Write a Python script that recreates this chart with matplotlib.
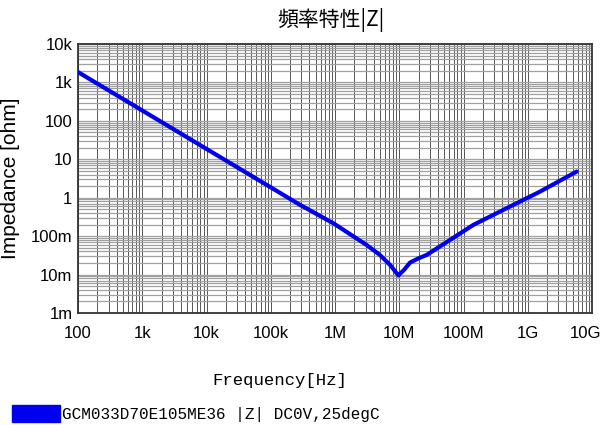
import numpy as np
import matplotlib.pyplot as plt
import matplotlib.transforms as mtransforms
from matplotlib.ticker import FixedLocator, LogLocator, NullFormatter

# |Z| curve (Hz, ohm)
freq = [1e2, 1e3, 1e4, 1e5, 2.85e5, 9.4e5, 3.1e6, 5.0e6, 7.2e6, 9.7e6,
        1.2e7, 1.47e7, 2.0e7, 2.67e7, 6.17e7, 1.42e8, 4.7e8, 1.55e9, 5.78e9]
imp = [1860, 186, 18.6, 1.86, 0.653, 0.217, 0.059, 0.0324, 0.0178, 0.0095,
       0.0135, 0.0205, 0.0265, 0.0324, 0.0796, 0.196, 0.533, 1.44, 4.79]

xticks = [1e2, 1e3, 1e4, 1e5, 1e6, 1e7, 1e8, 1e9, 1e10]
xlabels = ['100', '1k', '10k', '100k', '1M', '10M', '100M', '1G', '10G']
yticks = [1e-3, 1e-2, 1e-1, 1, 10, 100, 1e3, 1e4]
ylabels = ['1m', '10m', '100m', '1', '10', '100', '1k', '10k']

fig = plt.figure(figsize=(6.05, 4.25), dpi=100)
ax = fig.add_axes([78/605, 112/425, 514/605, 269/425])

ax.set_xscale('log')
ax.set_yscale('log')
ax.set_xlim(1e2, 1e10)
ax.set_ylim(1e-3, 1e4)

ax.plot(freq, imp, color='#0000ee', lw=3.0, solid_capstyle='round',
        solid_joinstyle='round', zorder=5)

ax.xaxis.set_major_locator(FixedLocator(xticks))
ax.yaxis.set_major_locator(FixedLocator(yticks))
ax.xaxis.set_minor_locator(LogLocator(base=10, subs=np.arange(2, 10), numticks=20))
ax.yaxis.set_minor_locator(LogLocator(base=10, subs=np.arange(2, 10), numticks=20))
ax.xaxis.set_minor_formatter(NullFormatter())
ax.yaxis.set_minor_formatter(NullFormatter())
ax.set_xticklabels(xlabels)
ax.set_yticklabels(ylabels)

# grid: horizontal light grey, vertical darker
ax.grid(True, axis='y', which='both', color='#a0a0a0', lw=0.9, zorder=1)
ax.grid(True, axis='x', which='both', color='#555555', lw=0.7, zorder=2)
ax.set_axisbelow(True)

ax.tick_params(which='both', length=0)
ax.tick_params(axis='x', pad=9, labelsize=12)
ax.tick_params(axis='y', pad=4, labelsize=12)
for lab in ax.get_xticklabels() + ax.get_yticklabels():
    lab.set_family('Liberation Sans')
# keep the last x label inside the figure
last = ax.get_xticklabels()[-1]
last.set_transform(last.get_transform() +
                   mtransforms.ScaledTranslation(-5/72, 0, fig.dpi_scale_trans))
for sp in ax.spines.values():
    sp.set_color('#333333')
    sp.set_linewidth(1.3)

ax.set_ylabel('Impedance [ohm]', fontsize=15, family='Liberation Sans')
ax.yaxis.set_label_coords(-0.112, 0.5)

fig.text(331/605, 1 - 20/425, '頻率特性|Z|', ha='center', va='center',
         fontsize=15, family=['Noto Sans CJK JP', 'DejaVu Sans'])
fig.text(280/605, 1 - 381/425, 'Frequency[Hz]', ha='center', va='center',
         fontsize=12.5, family='Liberation Mono')

# legend swatch and text
fig.patches.append(plt.Rectangle((12/605, 1 - 422/425), 48/605, 17/425,
                                 transform=fig.transFigure, color='#0000ee'))
fig.text(62/605, 1 - 414/425, 'GCM033D70E105ME36 |Z| DC0V,25degC',
         ha='left', va='center', fontsize=11.5, family='Liberation Mono')

fig.savefig('out.png', dpi=100)
